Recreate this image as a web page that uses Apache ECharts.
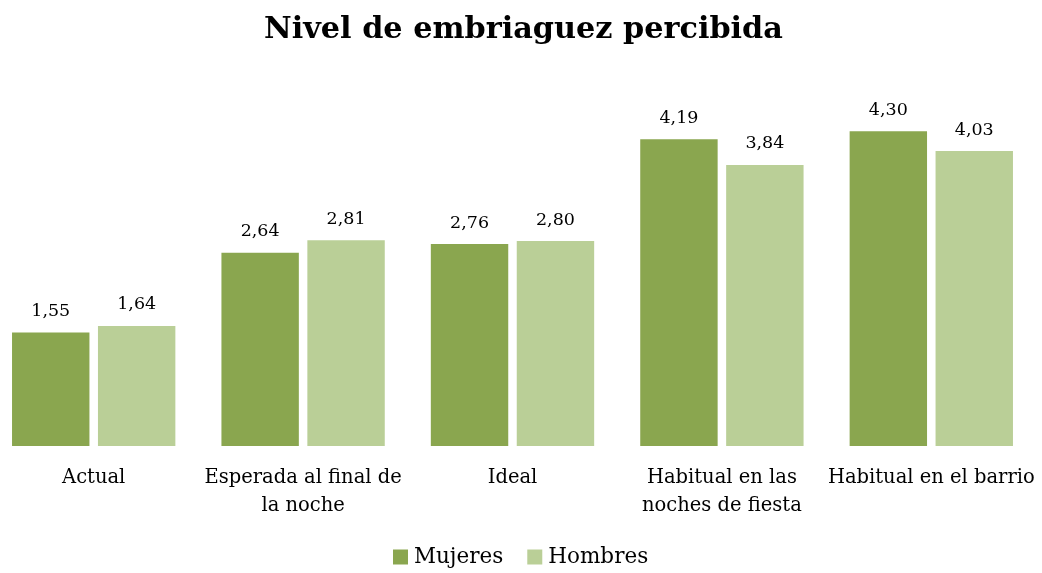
<html>
  <head>
    <meta charset="utf-8">
    <title>Nivel de embriaguez percibida</title>
    <script src="https://cdn.jsdelivr.net/npm/echarts@6/dist/echarts.min.js"></script>
    <style>
      html, body { margin: 0; padding: 0; background: #ffffff; overflow: hidden; }
      /* el área del gráfico empieza un poco fuera del borde izquierdo */
      #chart { width: 1053px; height: 573px; margin-left: -11px; }
    </style>
  </head>
  <body>
    <div id="chart"></div>
    <script>
      // datos
      var categorias = [
        'Actual',
        'Esperada al final de\nla noche',
        'Ideal',
        'Habitual en las\nnoches de fiesta',
        'Habitual en el barrio'
      ]
      var mujeres = [1.55, 2.64, 2.76, 4.19, 4.30]
      var hombres = [1.64, 2.81, 2.80, 3.84, 4.03]

      var fuente = 'DejaVu Serif'

      var chart = echarts.init(document.getElementById('chart'))

      var etiqueta = {
        show: true,
        position: 'top',
        distance: 12,
        fontFamily: fuente,
        fontSize: 17.5,
        color: '#000000',
        formatter: function (p) {
          return p.value.toFixed(2).replace('.', ',')
        }
      }

      chart.setOption({
        animation: false,
        title: {
          text: 'Nivel de embriaguez percibida',
          left: 270,
          top: 10,
          textStyle: {
            fontFamily: fuente,
            fontWeight: 'bold',
            fontSize: 30.3,
            color: '#000000'
          }
        },
        legend: {
          bottom: 0,
          left: 399,
          itemWidth: 15,
          itemHeight: 15,
          itemGap: 24,
          icon: 'rect',
          data: ['Mujeres', 'Hombres'],
          textStyle: {
            fontFamily: fuente,
            fontSize: 21.5,
            color: '#000000',
            padding: [0, 0, 0, 1]
          }
        },
        grid: {
          left: 0,
          right: 6,
          top: 80,
          bottom: 127
        },
        xAxis: {
          type: 'category',
          data: categorias,
          axisLine: { show: false },
          axisTick: { show: false },
          axisLabel: {
            margin: 18,
            fontFamily: fuente,
            fontSize: 19.5,
            lineHeight: 28,
            color: '#000000',
            interval: 0
          }
        },
        yAxis: {
          type: 'value',
          min: 0,
          max: 5,
          show: false,
          splitLine: { show: false }
        },
        series: [
          {
            name: 'Mujeres',
            type: 'bar',
            data: mujeres,
            barGap: '11%',
            barCategoryGap: '22%',
            itemStyle: { color: '#8aa64f' },
            label: etiqueta
          },
          {
            name: 'Hombres',
            type: 'bar',
            data: hombres,
            itemStyle: { color: '#bacf97' },
            label: etiqueta
          }
        ]
      })
    </script>
  </body>
</html>
